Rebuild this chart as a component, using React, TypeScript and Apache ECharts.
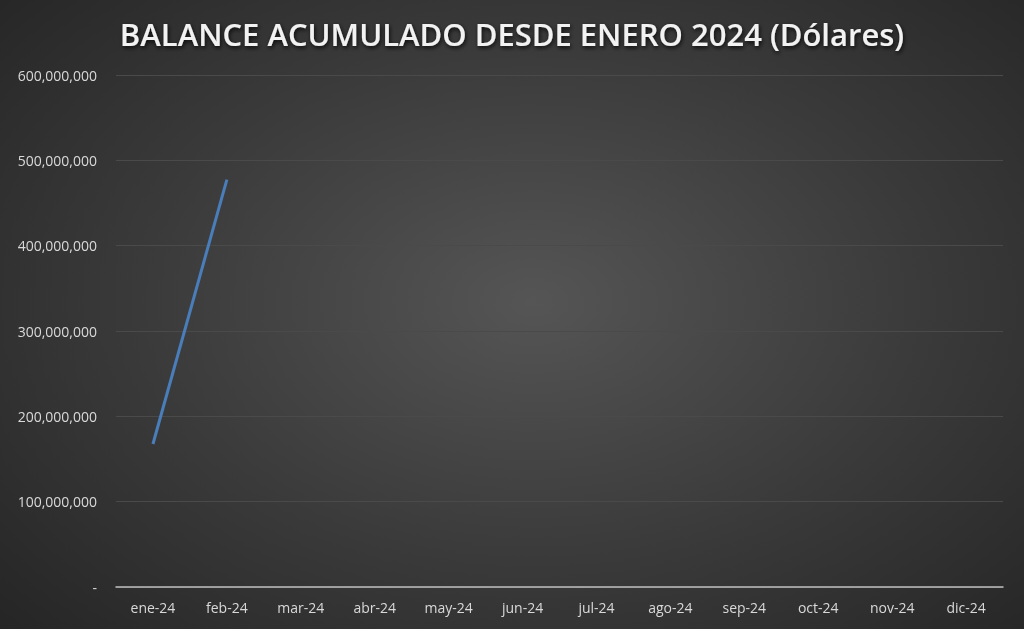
import React, { useEffect, useRef } from "react";
import * as echarts from "echarts";

const title = "BALANCE ACUMULADO DESDE ENERO 2024 (Dólares)";
const months = ["ene-24", "feb-24", "mar-24", "abr-24", "may-24", "jun-24", "jul-24", "ago-24", "sep-24", "oct-24", "nov-24", "dic-24"];
const balance: (number | null)[] = [167600000, 477500000, null, null, null, null, null, null, null, null, null, null];
const yMin = 0;
const yMax = 600000000;
const yInterval = 100000000;

export default function App() {
  const ref = useRef<HTMLDivElement>(null);
  useEffect(() => {
    if (!ref.current) return;
    const chart = echarts.init(ref.current, null, { renderer: "svg" });
    chart.setOption({
      animation: false,
      backgroundColor: "transparent",
      title: {
        text: title,
        left: "center",
        top: 13,
        textStyle: {
          color: "#f2f2f2",
          fontFamily: "Open Sans",
          fontWeight: 600,
          fontSize: 31,
          textShadowColor: "rgba(0,0,0,0.8)",
          textShadowBlur: 4,
          textShadowOffsetX: 1,
          textShadowOffsetY: 2,
        },
      },
      grid: { left: 116, right: 21, top: 75, bottom: 42, containLabel: false },
      xAxis: {
        type: "category",
        data: months,
        boundaryGap: true,
        axisLine: { show: true, lineStyle: { color: "#bfbfbf", width: 1.5 } },
        axisTick: { show: false },
        axisLabel: { color: "#d9d9d9", fontSize: 14, fontFamily: "Open Sans", margin: 13 },
        splitLine: { show: false },
      },
      yAxis: {
        type: "value",
        min: yMin,
        max: yMax,
        interval: yInterval,
        axisLine: { show: false },
        axisTick: { show: false },
        axisLabel: {
          color: "#d9d9d9",
          fontSize: 14,
          fontFamily: "Open Sans",
          margin: 19,
          formatter: (v: number) => (v === 0 ? "-" : v.toLocaleString("en-US")),
        },
        splitLine: { show: true, lineStyle: { color: "#4a4a4a", width: 1 } },
      },
      series: [
        {
          type: "line",
          data: balance,
          showSymbol: false,
          symbol: "none",
          lineStyle: { color: "#4a7ebb", width: 3 },
          connectNulls: false,
        },
      ],
    });
    return () => chart.dispose();
  }, []);
  return (
    <div
      style={{
        position: "fixed",
        left: 0,
        top: 0,
        width: 1024,
        height: 629,
        background: "radial-gradient(ellipse 70% 75% at 52% 48%, #555555 0%, #3a3a3a 55%, #262626 100%)",
      }}
    >
      <div ref={ref} style={{ width: 1024, height: 629 }} />
    </div>
  );
}
